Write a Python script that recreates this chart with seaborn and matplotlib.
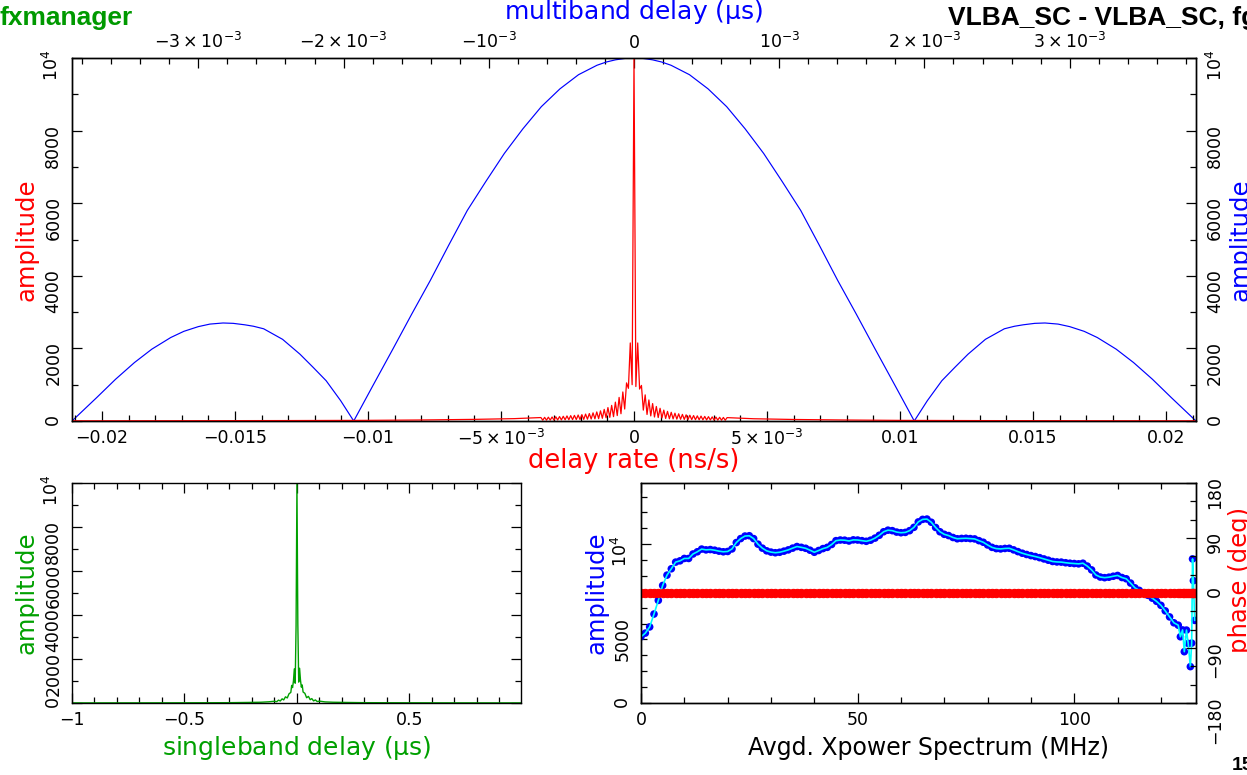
import matplotlib
matplotlib.use("Agg")
import matplotlib.pyplot as plt
import seaborn as sns
import numpy as np
from matplotlib.ticker import MultipleLocator

# ---------------- data ----------------
# top panel, blue: amplitude vs multiband delay (units of 1e-3 us)
mb_delay_ms = [-3.87, -3.70, -3.57, -3.44, -3.32, -3.19, -3.10, -3.00, -2.92, -2.83,
               -2.76, -2.68, -2.62, -2.55, -2.42, -2.30, -2.21, -2.12, -2.02, -1.93,
               -1.80, -1.658, -1.53, -1.403, -1.275, -1.148, -1.02, -0.893, -0.765, -0.638,
               -0.51, -0.382, -0.255, -0.19, -0.127, -0.06,
               0.0,
               0.06, 0.127, 0.19, 0.255, 0.382, 0.51,
               0.638, 0.765, 0.893, 1.02, 1.148, 1.275, 1.403, 1.53, 1.658, 1.80,
               1.93, 2.02, 2.12, 2.21, 2.30, 2.42, 2.55, 2.62, 2.68, 2.76,
               2.83, 2.92, 3.00, 3.10, 3.19, 3.32, 3.44, 3.57, 3.70, 3.87]
mb_amp = [0, 645, 1150, 1610, 1980, 2300, 2470, 2600, 2670, 2700,
          2690, 2650, 2610, 2540, 2250, 1840, 1480, 1110, 560, 0,
          960, 2000, 2950, 3870, 4850, 5800, 6600, 7370, 8050, 8660,
          9150, 9540, 9800, 9890, 9950, 9990,
          10000,
          9990, 9950, 9890, 9800, 9540, 9150,
          8660, 8050, 7370, 6600, 5800, 4850, 3870, 2950, 2000, 960,
          0, 560, 1110, 1480, 1840, 2250, 2540, 2610, 2650, 2690,
          2700, 2670, 2600, 2470, 2300, 1980, 1610, 1150, 645, 0]

# top panel, red: amplitude vs delay rate (ns/s); dense core sampled every 7e-5
rate_step = 0.00007
rate_core_amp = [95, 22, 100, 23, 105, 25, 110, 26, 116, 28,
                 122, 30, 130, 33, 140, 35, 148, 38, 155, 40,
                 165, 42, 175, 45, 190, 50, 205, 55, 225, 60,
                 250, 65, 280, 75, 320, 90, 370, 100, 430, 120,
                 520, 150, 650, 200, 800, 330, 1050, 900, 2150, 1000,
                 10000,
                 950, 2150, 880, 980, 300, 720, 180, 580, 140, 480,
                 110, 400, 95, 350, 85, 300, 70, 265, 62, 240,
                 58, 215, 52, 198, 48, 182, 44, 170, 40, 160,
                 38, 150, 36, 142, 34, 135, 32, 126, 30, 120,
                 28, 113, 26, 108, 24, 102, 22, 98, 21, 93]
rate_outer_x = [-0.0211, -0.017, -0.013, -0.010, -0.008, -0.006, -0.0045]
rate_outer_neg = [5, 8, 12, 18, 28, 45, 65]
rate_outer_pos = [62, 42, 27, 17, 11, 7, 5]

# bottom left, green: amplitude vs singleband delay (us)
sb_delay = [-1.0, -0.6, -0.4, -0.3, -0.22, -0.16, -0.125, -0.1, -0.09, -0.082,
            -0.074, -0.066, -0.059, -0.051, -0.043, -0.0352, -0.0273, -0.0234, -0.0195, -0.0156,
            -0.0117, -0.0078, -0.0039, 0.0, 0.0039, 0.0078, 0.0117, 0.0156, 0.0195, 0.0234,
            0.0273, 0.0352, 0.043, 0.051, 0.059, 0.066, 0.074, 0.082, 0.09, 0.1,
            0.125, 0.16, 0.22, 0.3, 0.4, 0.6, 0.996]
sb_amp = [5, 8, 12, 15, 25, 35, 55, 80, 60, 130,
          90, 190, 140, 280, 230, 420, 480, 800, 700, 1000,
          1550, 900, 3500, 10000, 3600, 950, 1580, 1050, 720, 820,
          500, 440, 240, 300, 150, 200, 95, 140, 65, 85,
          50, 35, 25, 15, 12, 8, 5]

# bottom right: averaged cross-power spectrum (MHz), amplitude and phase
freq = list(range(0, 125)) + [124.5, 125.0, 125.4, 125.9, 126.3, 126.8, 127.1, 127.3, 127.5, 127.8]
bp_amp = [4170, 4400, 4790, 5600, 6460, 7400, 8050, 8450, 8870, 8950,
          9100, 9100, 9380, 9520, 9690, 9640, 9660, 9620, 9560, 9520,
          9540, 9700, 10100, 10350, 10510, 10530, 10350, 10000, 9750, 9580,
          9500, 9460, 9490, 9560, 9640, 9750, 9850, 9800, 9740, 9620,
          9490, 9600, 9720, 9800, 9980, 10220, 10260, 10250, 10200, 10270,
          10260, 10220, 10180, 10250, 10380, 10560, 10780, 10880, 10850, 10760,
          10720, 10740, 10850, 11060, 11400, 11560, 11580, 11380, 11050, 10780,
          10620, 10540, 10420, 10340, 10360, 10370, 10350, 10330, 10220, 10120,
          9950, 9800, 9720, 9700, 9730, 9740, 9640, 9530, 9430, 9350,
          9280, 9220, 9150, 9070, 8990, 8910, 8880, 8870, 8830, 8800,
          8780, 8760, 8800, 8620, 8380, 8060, 7930, 7890, 7920, 7980,
          8030, 7900, 7820, 7550, 7250, 7090, 6920, 6780, 6600, 6400,
          6150, 5800, 5420, 5050, 4900,
          4170, 4600, 3230, 4590, 3750, 2290, 3770, 9070, 7700, 5200]
phase_deg = [0.0] * len(freq)

# ---------------- assemble ----------------
mb_x = [v * 1e-3 for v in mb_delay_ms]
rate_core_x = list(np.arange(-50, 51) * rate_step)
rate_x = rate_outer_x + rate_core_x + [-v for v in reversed(rate_outer_x)]
rate_amp = rate_outer_neg + rate_core_amp + rate_outer_pos

sns.set_style("ticks")
plt.rcParams["font.family"] = ["DejaVu Sans"]
plt.rcParams["mathtext.fontset"] = "dejavusans"
plt.rcParams["mathtext.default"] = "regular"
plt.rcParams["axes.linewidth"] = 1.0
plt.rcParams["axes.edgecolor"] = "black"

W, H = 1247, 775
fig = plt.figure(figsize=(W / 100, H / 100), dpi=100)
fig.patch.set_facecolor("white")


def rect(x0, y0, x1, y1):
    return [x0 / W, 1 - y1 / H, (x1 - x0) / W, (y1 - y0) / H]


def ftext(x, y, s, **kw):
    fig.text(x / W, 1 - y / H, s, **kw)


GREEN = "#00a000"
TICK_FS = 12.5
LAB_FS = 18


def ticks_in(ax, **kw):
    ax.tick_params(which="both", direction="in", colors="black", labelsize=TICK_FS, **kw)
    ax.tick_params(which="major", length=7, width=0.9)
    ax.tick_params(which="minor", length=4, width=0.9)


# ---- top panel
ax = fig.add_axes(rect(72, 58, 1196, 421))
ax_mb = ax.twiny()
sns.lineplot(x=mb_x, y=mb_amp, ax=ax_mb, color="blue", linewidth=0.85, estimator=None, sort=False)
sns.lineplot(x=rate_x, y=rate_amp, ax=ax, color="red", linewidth=0.9, estimator=None, sort=False)
ax.set_zorder(ax_mb.get_zorder() + 1)
ax.patch.set_visible(False)

ax.set_xlim(-0.02113, 0.02113)
ax.set_ylim(0, 10000)
ax_mb.set_xlim(-0.00387, 0.00387)
ax_mb.set_ylim(0, 10000)

ax.set_xticks([-0.02, -0.015, -0.01, -0.005, 0, 0.005, 0.01, 0.015, 0.02])
ax.set_xticklabels(["\u22120.02", "\u22120.015", "\u22120.01", r"$-5\times10^{-3}$", "0",
                    r"$5\times10^{-3}$", "0.01", "0.015", "0.02"])
ax.xaxis.set_minor_locator(MultipleLocator(0.001))
ax_mb.set_xticks([-0.003, -0.002, -0.001, 0, 0.001, 0.002, 0.003])
ax_mb.set_xticklabels([r"$-3\times10^{-3}$", r"$-2\times10^{-3}$", r"$-10^{-3}$", "0",
                       r"$10^{-3}$", r"$2\times10^{-3}$", r"$3\times10^{-3}$"])
ax_mb.xaxis.set_minor_locator(MultipleLocator(0.0002))
ax.set_yticks([0, 2000, 4000, 6000, 8000, 10000])
ax.set_yticklabels(["0", "2000", "4000", "6000", "8000", r"$10^4$"])
ax.yaxis.set_minor_locator(MultipleLocator(1000))
ticks_in(ax)
ticks_in(ax_mb)
ax.tick_params(axis="x", which="both", bottom=True, top=False, pad=6)
ax.tick_params(axis="y", which="both", left=True, right=True, labelleft=True,
               labelright=True, labelrotation=90, pad=7)
ax_mb.tick_params(axis="x", which="both", top=True, bottom=False, pad=4)

# ---- bottom left panel
ax_sb = fig.add_axes(rect(72, 483, 521, 703))
sns.lineplot(x=sb_delay, y=sb_amp, ax=ax_sb, color=GREEN, linewidth=1.0, estimator=None, sort=False)
ax_sb.set_xlim(-1.0, 0.996)
ax_sb.set_ylim(0, 10000)
ax_sb.set_xticks([-1, -0.5, 0, 0.5])
ax_sb.set_xticklabels(["\u22121", "\u22120.5", "0", "0.5"])
ax_sb.xaxis.set_minor_locator(MultipleLocator(0.1))
ax_sb.set_yticks([0, 2000, 4000, 6000, 8000, 10000])
ax_sb.set_yticklabels(["0", "2000", "4000", "6000", "8000", r"$10^4$"])
ax_sb.yaxis.set_minor_locator(MultipleLocator(1000))
ticks_in(ax_sb)
ax_sb.tick_params(axis="x", which="both", bottom=True, top=True, pad=6)
ax_sb.tick_params(axis="y", which="both", left=True, right=True, labelrotation=90, pad=7)

# ---- bottom right panel
ax_bp = fig.add_axes(rect(641, 483, 1196, 703))
sns.scatterplot(x=freq, y=bp_amp, ax=ax_bp, color="blue", s=30, edgecolor="none", zorder=2)
sns.lineplot(x=freq, y=bp_amp, ax=ax_bp, color="cyan", linewidth=1.2, estimator=None,
             sort=False, zorder=3)
ax_bp.set_xlim(0, 128.1)
ax_bp.set_ylim(0, 13850)
ax_bp.set_xticks([0, 50, 100])
ax_bp.xaxis.set_minor_locator(MultipleLocator(10))
ax_bp.set_yticks([0, 5000, 10000])
ax_bp.set_yticklabels(["0", "5000", r"$10^4$"])
ax_bp.yaxis.set_minor_locator(MultipleLocator(1000))
ticks_in(ax_bp)
ax_bp.tick_params(axis="x", which="both", bottom=True, top=True, pad=6)
ax_bp.tick_params(axis="y", which="both", left=True, right=False, labelrotation=90, pad=7)

ax_ph = ax_bp.twinx()
sns.lineplot(x=freq, y=phase_deg, ax=ax_ph, color="red", linewidth=4.5, marker="o",
             markersize=6, markeredgecolor="red", estimator=None, sort=False)
ax_ph.set_ylim(-180, 180)
ax_ph.set_yticks([-180, -90, 0, 90, 180])
ax_ph.set_yticklabels(["\u2212180", "\u221290", "0", "90", "180"])
ax_ph.yaxis.set_minor_locator(MultipleLocator(30))
ticks_in(ax_ph)
ax_ph.tick_params(axis="x", which="both", bottom=False, top=False)
ax_ph.tick_params(axis="y", which="both", right=True, left=False, labelrotation=90, pad=7)

for a in (ax, ax_mb, ax_sb, ax_bp, ax_ph):
    a.set_xlabel("")
    a.set_ylabel("")
    for s in a.spines.values():
        s.set_visible(True)
        s.set_color("black")
        s.set_linewidth(1.0)

# ---- texts (right-hand ones run off the page edge, as in the original)
ftext(0, 18, "fxmanager", color="#009900", fontsize=19, fontweight="bold",
      family="Liberation Sans", ha="left", va="center")
ftext(948, 18, "VLBA_SC - VLBA_SC, fg", color="black", fontsize=19, fontweight="bold",
      family="Liberation Sans", ha="left", va="center")
ftext(1232, 765, "15", color="black", fontsize=14, fontweight="bold",
      family="Liberation Sans", ha="left", va="center")
ftext(634, 12, r"multiband delay ($\mu$s)", color="blue", fontsize=LAB_FS, ha="center", va="center")
ftext(634, 461, "delay rate (ns/s)", color="red", fontsize=18.5, ha="center", va="center")
ftext(27, 240, "amplitude", color="red", fontsize=17.5, rotation=90, ha="center", va="center")
ftext(1240, 240, "amplitude", color="blue", fontsize=17.5, rotation=90, ha="center", va="center")
ftext(27, 593, "amplitude", color=GREEN, fontsize=17.5, rotation=90, ha="center", va="center")
ftext(297, 748, r"singleband delay ($\mu$s)", color=GREEN, fontsize=LAB_FS, ha="center", va="center")
ftext(597, 593, "amplitude", color="blue", fontsize=17.5, rotation=90, ha="center", va="center")
ftext(1240, 580, "phase (deg)", color="red", fontsize=17.5, rotation=90, ha="center", va="center")
ftext(928, 748, "Avgd. Xpower Spectrum (MHz)", color="black", fontsize=17, ha="center", va="center")

fig.savefig("out.png", dpi=100, facecolor="white")
